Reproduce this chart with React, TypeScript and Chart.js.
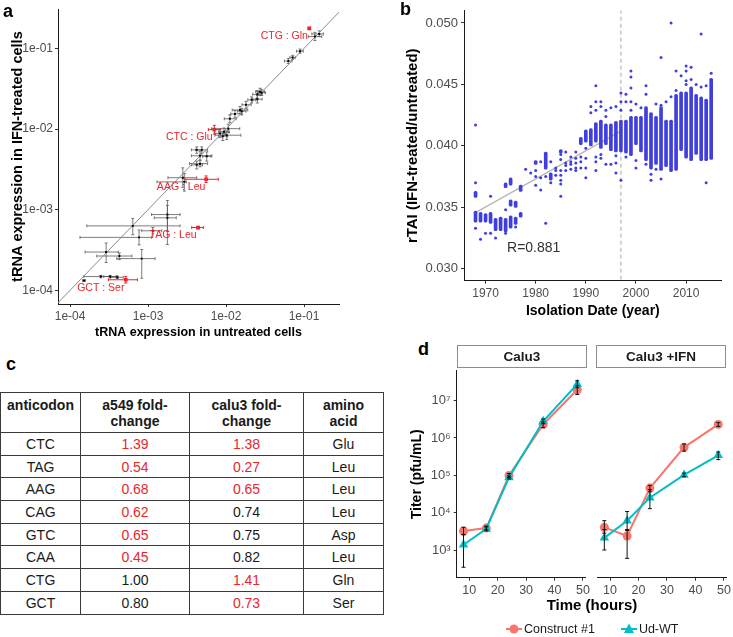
import React, { useEffect, useRef } from 'react';
import { Chart, registerables } from 'chart.js';

Chart.register(...registerables);

const FONT = '"Liberation Sans", Arial, Helvetica, sans-serif';
Chart.defaults.font.family = FONT;
Chart.defaults.color = '#4d4d4d';

const RED = '#e8262c';
const GG_RED = '#F8766D';
const GG_TEAL = '#00BFC4';
const BLUE = '#3f3fe0';

// ---------------- Panel a : tRNA expression ----------------
const aTickValues = [1e-4, 1e-3, 1e-2, 1e-1];
const aTickLabels = ['1e-04', '1e-03', '1e-02', '1e-01'];
const aUntreated = [0.157, 0.138, 0.0889, 0.0716, 0.0629, 0.0273, 0.0252, 0.0286, 0.0252, 0.0213, 0.018, 0.0151, 0.0159, 0.013, 0.0112, 0.0107, 0.00942, 0.0102, 0.00908, 0.00838, 0.00488, 0.00421, 0.00464, 0.00566, 0.00464, 0.00421, 0.00279, 0.00292, 0.00177, 0.00177, 0.000637, 0.00115, 0.000767, 0.00029, 0.000429, 0.00083, 0.000151, 0.000248, 0.000326, 0.000404];
const aUntreatedLo = [0.126, 0.1135, 0.08, 0.066, 0.056, 0.024, 0.022, 0.026, 0.022, 0.019, 0.016, 0.012, 0.014, 0.0115, 0.0095, 0.0065, 0.008, 0.0072, 0.008, 0.0072, 0.0041, 0.0036, 0.0036, 0.005, 0.0034, 0.0036, 0.0018, 0.0013, 0.00111, 0.0012, 0.000164, 0.00083, 0.000134, 0.000156, 0.00022, 0.000397, 0.000145, 0.00015, 0.00027, 0.00033];
const aUntreatedHi = [0.177, 0.169, 0.098, 0.078, 0.07, 0.031, 0.029, 0.032, 0.029, 0.024, 0.021, 0.019, 0.018, 0.016, 0.0135, 0.015, 0.011, 0.0155, 0.0105, 0.0098, 0.0058, 0.005, 0.0066, 0.0064, 0.0058, 0.005, 0.0042, 0.0031, 0.00257, 0.0023, 0.00257, 0.0015, 0.00111, 0.000416, 0.00062, 0.00123, 0.000157, 0.0004, 0.00039, 0.00048];
const aTreated = [0.151, 0.14, 0.0923, 0.0773, 0.0697, 0.029, 0.0269, 0.0282, 0.0234, 0.023, 0.02, 0.0172, 0.0166, 0.0154, 0.0134, 0.0101, 0.00923, 0.00838, 0.00815, 0.00879, 0.00551, 0.00551, 0.00466, 0.00458, 0.00372, 0.00359, 0.00249, 0.00221, 0.000869, 0.000792, 0.000629, 0.000547, 0.000453, 0.000298, 0.000266, 0.000247, 0.000132, 0.000148, 0.000148, 0.000145];
const aTreatedLo = [0.14, 0.125, 0.087, 0.073, 0.065, 0.026, 0.024, 0.026, 0.021, 0.021, 0.018, 0.0155, 0.015, 0.014, 0.012, 0.009, 0.0083, 0.0074, 0.0072, 0.0078, 0.005, 0.005, 0.0041, 0.004, 0.0034, 0.0032, 0.00189, 0.0017, 0.000536, 0.000369, 0.000489, 0.0005, 0.000366, 0.000221, 0.00024, 0.000141, 0.00013, 0.000143, 0.000143, 0.00014];
const aTreatedHi = [0.165, 0.158, 0.098, 0.082, 0.075, 0.032, 0.03, 0.031, 0.026, 0.025, 0.022, 0.019, 0.018, 0.017, 0.015, 0.0115, 0.0103, 0.0095, 0.0092, 0.0099, 0.006, 0.006, 0.0053, 0.0052, 0.0041, 0.004, 0.0033, 0.0028, 0.0013, 0.00113, 0.000778, 0.0006, 0.00056, 0.000386, 0.00029, 0.000321, 0.000134, 0.000153, 0.000153, 0.00015];
const aHighlightNames = ['CTG : Gln', 'CTC : Glu', 'AAG : Leu', 'TAG : Leu', 'GCT : Ser'];
const aHighlightUntreated = [0.117, 0.00708, 0.00555, 0.00438, 0.000518];
const aHighlightUntreatedLo = [0.113, 0.00593, 0.00298, 0.00363, 0.00031];
const aHighlightUntreatedHi = [0.121, 0.00838, 0.00796, 0.00512, 0.00073];
const aHighlightTreated = [0.177, 0.00984, 0.00238, 0.0006, 0.000135];
const aHighlightTreatedLo = [0.172, 0.00863, 0.00217, 0.00058, 0.000123];
const aHighlightTreatedHi = [0.182, 0.0111, 0.00262, 0.00062, 0.000148];

// ---------------- Panel b : rTAI vs isolation date ----------------
const bTickYears = [1970, 1980, 1990, 2000, 2010];
const bTickValues = [0.03, 0.035, 0.04, 0.045, 0.05];
const bTickLabels = ['0.030', '0.035', '0.040', '0.045', '0.050'];
const bDotYears = [
  1968, 1968, 1968, 1969, 1970, 1971, 1971, 1972, 1974, 1974, 1976, 1978, 1979,
  1980, 1980, 1980, 1981, 1981, 1981, 1982, 1982, 1983, 1983, 1984, 1984, 1984,
  1985, 1985, 1985, 1985, 1985, 1985, 1985, 1986, 1986, 1986, 1986,
  1987, 1987, 1987, 1987, 1988, 1988, 1988, 1988, 1988, 1989, 1989, 1989,
  1990, 1990, 1990, 1990, 1991, 1991, 1992, 1992, 1992, 1992, 1992, 1992,
  1993, 1993, 1993, 1993, 1994, 1994, 1994, 1995, 1995, 1996, 1996, 1996, 1996,
  1997, 1997, 1997, 1997, 1998, 1998, 1998, 1999, 1999, 1999, 1999, 1999,
  2000, 2000, 2000, 2001, 2002, 2002, 2002, 2003, 2003, 2004, 2004, 2005, 2005, 2005,
  2006, 2007, 2007, 2008, 2008, 2009, 2010, 2010, 2010, 2010, 2011, 2011, 2012,
  2013, 2013, 2014, 2014, 2015,
];
const bDotValues = [
  0.0417, 0.037, 0.0333, 0.0324, 0.0329, 0.0359, 0.0329, 0.0325, 0.0348, 0.0329, 0.0334, 0.0381, 0.0378,
  0.038, 0.0375, 0.0368, 0.0387, 0.0374, 0.0364, 0.0375, 0.0337, 0.0387, 0.037, 0.0382, 0.038, 0.0376,
  0.038, 0.0376, 0.0372, 0.0369, 0.0359, 0.0393, 0.0389, 0.0395, 0.0386, 0.0384, 0.038,
  0.0391, 0.0387, 0.0385, 0.0381, 0.0395, 0.039, 0.0386, 0.0382, 0.038, 0.0391, 0.0387, 0.0382,
  0.0398, 0.039, 0.0382, 0.0374, 0.0432, 0.0427, 0.0449, 0.0436, 0.0429, 0.0391, 0.0387, 0.038,
  0.0436, 0.0432, 0.0393, 0.039, 0.0429, 0.0424, 0.0385, 0.0431, 0.0385, 0.0432, 0.0392, 0.0386, 0.0378,
  0.0443, 0.0436, 0.0429, 0.0372, 0.0442, 0.0436, 0.0391, 0.0461, 0.0456, 0.0447, 0.0436, 0.0429,
  0.0434, 0.0388, 0.0382, 0.0431, 0.0449, 0.0442, 0.0385, 0.0377, 0.0372, 0.0434, 0.0381, 0.0472, 0.0433, 0.0373,
  0.0436, 0.05, 0.044, 0.0461, 0.0445, 0.0457, 0.0465, 0.0461, 0.0453, 0.045, 0.0464, 0.0454, 0.045,
  0.0491, 0.0448, 0.0449, 0.037, 0.0459,
];
const bBandYears = [
  1968, 1968, 1969, 1970, 1971, 1972, 1973, 1974, 1974, 1975, 1975, 1975, 1976, 1976, 1977, 1977,
  1980, 1982, 1983, 1985, 1989, 1990, 1991, 1992, 1993, 1994, 1995, 1996, 1997, 1998, 1999, 2000,
  2001, 2002, 2003, 2004, 2005, 2006, 2007, 2008, 2009, 2010, 2011, 2012, 2013, 2014, 2015,
];
const bBandLow = [
  0.0358, 0.0338, 0.0338, 0.0338, 0.0337, 0.0331, 0.0331, 0.0366, 0.033, 0.0368, 0.0351, 0.0333, 0.035, 0.0336, 0.0363, 0.0342,
  0.0385, 0.0381, 0.0372, 0.0394, 0.0401, 0.0403, 0.04, 0.0403, 0.0398, 0.0401, 0.0396, 0.0395, 0.0395, 0.0394, 0.0392, 0.0401,
  0.0395, 0.0388, 0.0381, 0.0385, 0.038, 0.0383, 0.0379, 0.038, 0.0396, 0.039, 0.0388, 0.0393, 0.0388, 0.0388, 0.0389,
];
const bBandHigh = [
  0.0363, 0.0347, 0.0346, 0.0345, 0.0346, 0.0341, 0.0342, 0.037, 0.0341, 0.0374, 0.0356, 0.0343, 0.0355, 0.0342, 0.0368, 0.0346,
  0.0388, 0.0395, 0.0378, 0.0397, 0.0407, 0.0413, 0.0414, 0.0419, 0.0421, 0.0418, 0.0418, 0.042, 0.0421, 0.0421, 0.0424, 0.0424,
  0.0424, 0.0432, 0.0427, 0.0424, 0.0432, 0.0421, 0.0421, 0.0442, 0.0444, 0.0444, 0.0448, 0.0442, 0.044, 0.0438, 0.0455,
];
const bFitYears = [1968, 1997];
const bFitValues = [0.03457, 0.0412];
const bCutoffYear = 1997;
const bCorrelation = 'R=0.881';

// ---------------- Panel c : table ----------------
const cAnticodons = ['CTC', 'TAG', 'AAG', 'CAG', 'GTC', 'CAA', 'CTG', 'GCT'];
const cA549 = ['1.39', '0.54', '0.68', '0.62', '0.65', '0.45', '1.00', '0.80'];
const cA549Sig = [true, true, true, true, true, true, false, false];
const cCalu3 = ['1.38', '0.27', '0.65', '0.74', '0.75', '0.82', '1.41', '0.73'];
const cCalu3Sig = [true, true, true, false, false, false, true, true];
const cAmino = ['Glu', 'Leu', 'Leu', 'Leu', 'Asp', 'Leu', 'Gln', 'Ser'];

// ---------------- Panel d : growth curves ----------------
const dHours = [8, 16, 24, 36, 48];
const dTimeTicks = [10, 20, 30, 40, 50];
const dTiterTicks = [1e3, 1e4, 1e5, 1e6, 1e7];
const dTiterLabels = ['10³', '10⁴', '10⁵', '10⁶', '10⁷'];
const dCalu3Construct = [3250, 3900, 100000, 2300000, 19500000];
const dCalu3ConstructLo = [2600, 3500, 88000, 1900000, 14500000];
const dCalu3ConstructHi = [4100, 4400, 112000, 2700000, 25000000];
const dCalu3Wt = [1400, 3700, 88000, 2800000, 27500000];
const dCalu3WtLo = [350, 3300, 80000, 2400000, 22000000];
const dCalu3WtHi = [2600, 4200, 96000, 3200000, 34000000];
const dIfnConstruct = [4000, 2350, 44000, 530000, 2150000];
const dIfnConstructLo = [2800, 600, 35000, 420000, 1900000];
const dIfnConstructHi = [6000, 3300, 52000, 650000, 2400000];
const dIfnWt = [2100, 6000, 24500, 98000, 325000];
const dIfnWtLo = [1000, 3500, 12500, 88000, 250000];
const dIfnWtHi = [3500, 10500, 40000, 110000, 400000];

// ---------------- plugins ----------------
function drawErrorBars(chart: any) {
  const ctx = chart.ctx;
  const area = chart.chartArea;
  ctx.save();
  ctx.beginPath();
  ctx.rect(area.left, area.top, area.right - area.left, area.bottom - area.top);
  ctx.clip();
  chart.data.datasets.forEach((ds: any, di: number) => {
    if (!ds.errX && !ds.errY) return;
    const meta = chart.getDatasetMeta(di);
    const xs = meta.xScale;
    const ys = meta.yScale;
    ctx.strokeStyle = ds.errColor || '#000';
    ctx.lineWidth = ds.errWidth || 1;
    const cap = ds.errCap ?? 2;
    ds.data.forEach((p: any, i: number) => {
      const px = xs.getPixelForValue(p.x);
      const py = ys.getPixelForValue(p.y);
      ctx.beginPath();
      if (ds.errX) {
        const a = xs.getPixelForValue(ds.errX[i][0]);
        const b = xs.getPixelForValue(ds.errX[i][1]);
        ctx.moveTo(a, py); ctx.lineTo(b, py);
        ctx.moveTo(a, py - cap); ctx.lineTo(a, py + cap);
        ctx.moveTo(b, py - cap); ctx.lineTo(b, py + cap);
      }
      if (ds.errY) {
        const a = ys.getPixelForValue(ds.errY[i][0]);
        const b = ys.getPixelForValue(ds.errY[i][1]);
        ctx.moveTo(px, a); ctx.lineTo(px, b);
        ctx.moveTo(px - cap, a); ctx.lineTo(px + cap, a);
        ctx.moveTo(px - cap, b); ctx.lineTo(px + cap, b);
      }
      ctx.stroke();
    });
  });
  ctx.restore();
}

const errorBarPlugin = {
  id: 'errorBars',
  beforeDatasetsDraw(chart: any, _a: any, opts: any) {
    if (!opts || !opts.top) drawErrorBars(chart);
  },
  afterDatasetsDraw(chart: any, _a: any, opts: any) {
    if (opts && opts.top) drawErrorBars(chart);
  },
};

const pointLabelPlugin = {
  id: 'pointLabels',
  afterDatasetsDraw(chart: any, _a: any, opts: any) {
    if (!opts || !opts.labels) return;
    const meta = chart.getDatasetMeta(opts.datasetIndex);
    const ctx = chart.ctx;
    ctx.save();
    ctx.font = `${opts.size}px ${FONT}`;
    ctx.fillStyle = opts.color;
    ctx.textAlign = 'center';
    ctx.textBaseline = 'middle';
    meta.data.forEach((el: any, i: number) => {
      ctx.fillText(opts.labels[i], el.x + opts.dx, el.y + opts.dy);
    });
    ctx.restore();
  },
};

const textNotePlugin = {
  id: 'textNote',
  afterDatasetsDraw(chart: any, _a: any, opts: any) {
    if (!opts || !opts.text) return;
    const ctx = chart.ctx;
    const x = chart.scales.x.getPixelForValue(opts.x);
    const y = chart.scales.y.getPixelForValue(opts.y);
    ctx.save();
    ctx.font = `${opts.size}px ${FONT}`;
    ctx.fillStyle = opts.color;
    ctx.textAlign = 'center';
    ctx.textBaseline = 'middle';
    ctx.fillText(opts.text, x, y);
    ctx.restore();
  },
};

const GRID = { drawOnChartArea: false, drawTicks: true, tickLength: 3, color: '#333', lineWidth: 1, offset: false };
const BORDER = { display: true, color: '#1a1a1a', width: 1 };
const TICKFONT = { size: 12 };

const baseOptions = (padding: any, plugins: any = {}) => ({
  responsive: false,
  animation: false,
  devicePixelRatio: 1,
  events: [],
  layout: { padding },
  plugins: { legend: { display: false }, tooltip: { enabled: false }, ...plugins },
});

function makeA() {
  return {
    type: 'scatter',
    data: {
      datasets: [
        {
          data: aUntreated.map((x, i) => ({ x, y: aTreated[i] })),
          errX: aUntreated.map((_, i) => [aUntreatedLo[i], aUntreatedHi[i]]),
          errY: aUntreated.map((_, i) => [aTreatedLo[i], aTreatedHi[i]]),
          errColor: '#5a5a5a', errCap: 1.5, errWidth: 0.8,
          backgroundColor: '#000', borderWidth: 0, pointRadius: 1.4, pointStyle: 'rect',
        },
        {
          data: aHighlightUntreated.map((x, i) => ({ x, y: aHighlightTreated[i] })),
          errX: aHighlightUntreated.map((_, i) => [aHighlightUntreatedLo[i], aHighlightUntreatedHi[i]]),
          errY: aHighlightUntreated.map((_, i) => [aHighlightTreatedLo[i], aHighlightTreatedHi[i]]),
          errColor: RED, errCap: 1.5, errWidth: 1,
          backgroundColor: RED, borderWidth: 0, pointRadius: 2.6, pointStyle: 'rect',
        },
        {
          data: [{ x: 5e-5, y: 5e-5 }, { x: 0.5, y: 0.5 }],
          showLine: true, borderColor: '#8a8a8a', borderWidth: 1, pointRadius: 0,
        },
      ],
    },
    options: {
      ...baseOptions({ top: 3, right: 26, left: 0, bottom: 0 }, {
        errorBars: { top: false },
        pointLabels: { datasetIndex: 1, labels: aHighlightNames, dx: -25, dy: 8, size: 10.5, color: RED },
      }),
      scales: {
        x: {
          type: 'logarithmic', min: 7.02e-5, max: 0.281, offset: false,
          afterBuildTicks: (s: any) => { s.ticks = aTickValues.map((v) => ({ value: v })); },
          afterFit: (s: any) => { s.height = 36; },
          ticks: { callback: (_v: any, i: number) => aTickLabels[i], font: TICKFONT, color: '#4d4d4d', padding: 2, maxRotation: 0, autoSkip: false },
          grid: GRID, border: BORDER,
          title: { display: true, text: 'tRNA expression in untreated cells', font: { size: 12.5, weight: 'bold' }, color: '#000', padding: 0 },
        },
        y: {
          type: 'logarithmic', min: 6.76e-5, max: 0.306, offset: false,
          afterBuildTicks: (s: any) => { s.ticks = aTickValues.map((v) => ({ value: v })); },
          afterFit: (s: any) => { s.width = 58; },
          ticks: { callback: (_v: any, i: number) => aTickLabels[i], font: TICKFONT, color: '#4d4d4d', padding: 2, autoSkip: false },
          grid: GRID, border: BORDER,
          title: { display: true, text: 'tRNA expression in IFN-treated cells', font: { size: 14.5, weight: 'bold' }, color: '#000', padding: { top: 9, bottom: 0 } },
        },
      },
    },
  };
}

function makeB() {
  return {
    type: 'scatter',
    data: {
      datasets: [
        {
          data: bDotYears.map((x, i) => ({ x, y: bDotValues[i] })),
          backgroundColor: BLUE, borderWidth: 0, pointRadius: 1.5,
        },
        {
          type: 'bar',
          data: bBandYears.map((x, i) => ({ x, y: [bBandLow[i], bBandHigh[i]] })),
          backgroundColor: BLUE, borderWidth: 0, barThickness: 3, borderRadius: 1.5, borderSkipped: false,
        },
        {
          data: bFitYears.map((x, i) => ({ x, y: bFitValues[i] })),
          showLine: true, borderColor: '#b5b5b5', borderWidth: 1.2, pointRadius: 0,
        },
        {
          data: [{ x: bCutoffYear, y: 0.02 }, { x: bCutoffYear, y: 0.06 }],
          showLine: true, borderColor: '#a8a8a8', borderWidth: 1, borderDash: [4, 3], pointRadius: 0,
        },
      ],
    },
    options: {
      ...baseOptions({ top: 0, right: 11.3, left: 0, bottom: 0 }, {
        textNote: { text: bCorrelation, x: 1979.6, y: 0.03169, size: 14, color: '#333' },
      }),
      scales: {
        x: {
          type: 'linear', min: 1965.7, max: 2017.1, offset: false,
          afterBuildTicks: (s: any) => { s.ticks = bTickYears.map((v) => ({ value: v })); },
          afterFit: (s: any) => { s.height = 39.3; },
          ticks: { callback: (v: any) => String(v), font: TICKFONT, color: '#4d4d4d', padding: 3, maxRotation: 0, autoSkip: false },
          grid: GRID, border: BORDER,
          title: { display: true, text: 'Isolation Date (year)', font: { size: 14, weight: 'bold' }, color: '#000', padding: 0 },
        },
        y: {
          type: 'linear', min: 0.02903, max: 0.05099, beginAtZero: false, offset: false,
          afterBuildTicks: (s: any) => { s.ticks = bTickValues.map((v) => ({ value: v })); },
          afterFit: (s: any) => { s.width = 99; },
          ticks: { callback: (_v: any, i: number) => bTickLabels[i], font: { size: 13 }, color: '#4d4d4d', padding: 3, autoSkip: false },
          grid: GRID, border: BORDER,
          title: { display: true, text: 'rTAI (IFN-treated/untreated)', font: { size: 15, weight: 'bold' }, color: '#000', padding: { top: 39, bottom: 0 } },
        },
      },
    },
  };
}

function dSeries(values: number[], lo: number[], hi: number[], color: string, style: string, radius: number) {
  return {
    data: dHours.map((x, i) => ({ x, y: values[i] })),
    errY: dHours.map((_, i) => [lo[i], hi[i]]),
    errColor: '#111', errCap: 2, errWidth: 1,
    showLine: true, borderColor: color, borderWidth: 2,
    backgroundColor: color, pointBackgroundColor: color, pointBorderWidth: 0,
    pointStyle: style, pointRadius: radius,
  };
}

function makeD(ifn: boolean) {
  const datasets = ifn
    ? [dSeries(dIfnWt, dIfnWtLo, dIfnWtHi, GG_TEAL, 'triangle', 5.5), dSeries(dIfnConstruct, dIfnConstructLo, dIfnConstructHi, GG_RED, 'circle', 4.5)]
    : [dSeries(dCalu3Wt, dCalu3WtLo, dCalu3WtHi, GG_TEAL, 'triangle', 5.5), dSeries(dCalu3Construct, dCalu3ConstructLo, dCalu3ConstructHi, GG_RED, 'circle', 4.5)];
  return {
    type: 'scatter',
    data: { datasets },
    options: {
      ...baseOptions(ifn ? { top: 9.3, right: 6.8, left: 3.7, bottom: 0 } : { top: 9.3, right: 4.7, left: 0, bottom: 0 }, {
        errorBars: { top: true },
      }),
      scales: {
        x: {
          type: 'linear', min: 5.6, max: 50.8, offset: false,
          afterBuildTicks: (s: any) => { s.ticks = dTimeTicks.map((v) => ({ value: v })); },
          afterFit: (s: any) => { s.height = 22.3; },
          ticks: { callback: (v: any) => String(v), font: { size: 12.5 }, color: '#4d4d4d', padding: 2, maxRotation: 0, autoSkip: false },
          grid: GRID, border: BORDER,
        },
        y: {
          type: 'logarithmic', min: 184, max: 6.25e7, offset: false, display: !ifn,
          afterBuildTicks: (s: any) => { s.ticks = dTiterTicks.map((v) => ({ value: v })); },
          afterFit: (s: any) => { s.width = ifn ? 0 : 61.7; },
          ticks: { callback: (_v: any, i: number) => dTiterLabels[i], font: { size: 13 }, color: '#4d4d4d', padding: 3, autoSkip: false },
          grid: GRID, border: BORDER,
          title: { display: !ifn, text: 'Titer (pfu/mL)', font: { size: 14, weight: 'bold' }, color: '#000', padding: { top: 14, bottom: 0 } },
        },
      },
    },
  };
}

function ChartBox({ left, top, width, height, make }: any) {
  const ref = useRef<HTMLCanvasElement>(null);
  useEffect(() => {
    const chart = new Chart(ref.current as HTMLCanvasElement, {
      ...make(),
      plugins: [errorBarPlugin, pointLabelPlugin, textNotePlugin],
    } as any);
    return () => chart.destroy();
  }, []);
  return (
    <canvas
      ref={ref}
      width={width}
      height={height}
      style={{ position: 'absolute', left, top, width, height }}
    />
  );
}

const letterStyle = (left: number, top: number): React.CSSProperties => ({
  position: 'absolute', left, top, fontFamily: FONT, fontWeight: 'bold', fontSize: 18, lineHeight: '18px', color: '#000',
});

const cellBase: React.CSSProperties = {
  border: '1px solid #3a3a3a', textAlign: 'center', padding: 0, fontSize: 14, fontFamily: FONT, color: '#1a1a1a',
};

function Table() {
  return (
    <table
      style={{
        position: 'absolute', left: 0, top: 392, width: 383, borderCollapse: 'collapse', tableLayout: 'fixed',
      }}
    >
      <colgroup>
        <col style={{ width: 80 }} />
        <col style={{ width: 109 }} />
        <col style={{ width: 114 }} />
        <col style={{ width: 80 }} />
      </colgroup>
      <thead>
        <tr style={{ height: 40 }}>
          {['anticodon', 'a549 fold-\nchange', 'calu3 fold-\nchange', 'amino\nacid'].map((h) => (
            <th key={h} style={{ ...cellBase, fontWeight: 'bold', verticalAlign: 'top', paddingTop: 4, lineHeight: '16px', whiteSpace: 'pre-line' }}>
              {h}
            </th>
          ))}
        </tr>
      </thead>
      <tbody>
        {cAnticodons.map((a, i) => (
          <tr key={a} style={{ height: 22.7 }}>
            <td style={cellBase}>{a}</td>
            <td style={{ ...cellBase, color: cA549Sig[i] ? RED : '#1a1a1a' }}>{cA549[i]}</td>
            <td style={{ ...cellBase, color: cCalu3Sig[i] ? RED : '#1a1a1a' }}>{cCalu3[i]}</td>
            <td style={cellBase}>{cAmino[i]}</td>
          </tr>
        ))}
      </tbody>
    </table>
  );
}

const stripStyle = (left: number, width: number): React.CSSProperties => ({
  position: 'absolute', left, top: 345, width, height: 23.3, boxSizing: 'border-box', border: '1px solid #8c8c8c',
  background: '#fff', fontFamily: FONT, fontWeight: 'bold', fontSize: 13.5, lineHeight: '21px', textAlign: 'center', color: '#1a1a1a',
});

function LegendIcon({ color, shape }: { color: string; shape: string }) {
  return (
    <svg width={16} height={12} style={{ display: 'block' }}>
      <line x1={0} y1={6} x2={16} y2={6} stroke={color} strokeWidth={2} />
      {shape === 'circle' ? (
        <circle cx={8} cy={6} r={4.5} fill={color} />
      ) : (
        <polygon points="8,0.5 13,10 3,10" fill={color} />
      )}
    </svg>
  );
}

export default function App() {
  return (
    <div style={{ position: 'absolute', left: 0, top: 0, width: 733, height: 637, background: '#fff', overflow: 'hidden' }}>
      <ChartBox left={0} top={0} width={365} height={340} make={makeA} />
      <ChartBox left={365} top={0} width={368} height={320} make={makeB} />
      <ChartBox left={395} top={360} width={197} height={240} make={() => makeD(false)} />
      <ChartBox left={592} top={360} width={141} height={240} make={() => makeD(true)} />
      <Table />
      <div style={letterStyle(3, 1.5)}>a</div>
      <div style={letterStyle(400, 0)}>b</div>
      <div style={letterStyle(6, 355)}>c</div>
      <div style={letterStyle(418, 340)}>d</div>
      <div style={stripStyle(456.7, 130.6)}>Calu3</div>
      <div style={stripStyle(595.7, 130.6)}>Calu3 +IFN</div>
      <div style={{ position: 'absolute', left: 530, top: 596, width: 124, textAlign: 'center', fontFamily: FONT, fontWeight: 'bold', fontSize: 15, lineHeight: '18px', color: '#000' }}>
        Time (hours)
      </div>
      <div style={{ position: 'absolute', left: 506, top: 622, display: 'flex', alignItems: 'center', fontFamily: FONT, fontSize: 12.5, lineHeight: '14px', color: '#1a1a1a' }}>
        <LegendIcon color={GG_RED} shape="circle" />
        <span style={{ marginLeft: 2, marginRight: 26 }}>Construct #1</span>
        <LegendIcon color={GG_TEAL} shape="triangle" />
        <span style={{ marginLeft: 2 }}>Ud-WT</span>
      </div>
    </div>
  );
}
